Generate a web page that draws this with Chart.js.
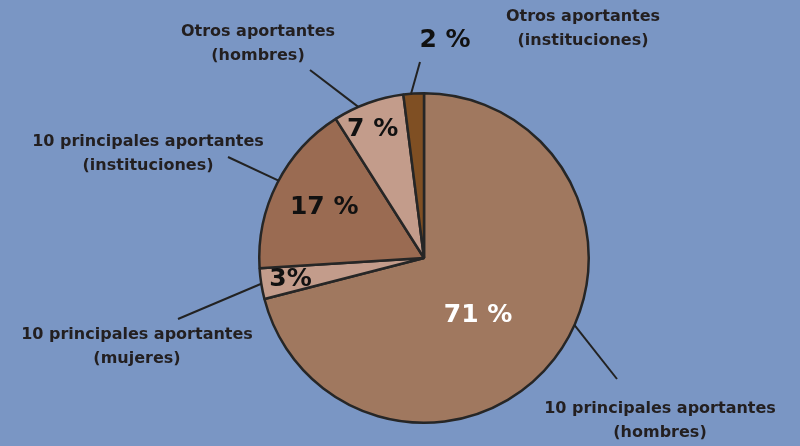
<!DOCTYPE html>
<html lang="es">
<head>
<meta charset="UTF-8">
<title>Aportantes</title>
<script src="https://cdn.jsdelivr.net/npm/chart.js"></script>
<style>
    html, body { margin: 0; padding: 0; background: #7a96c4; }
    #wrap { width: 800px; height: 446px; }
</style>
</head>
<body>
<div id="wrap"><canvas id="pie" width="800" height="446"></canvas></div>
<script>
// datos
var categories = [
    '10 principales aportantes (hombres)',
    '10 principales aportantes (mujeres)',
    '10 principales aportantes (instituciones)',
    'Otros aportantes (hombres)',
    'Otros aportantes (instituciones)'
];
var values = [71, 3, 17, 7, 2];
var pctLabels = ['71 %', '3%', '17 %', '7 %', '2 %'];
var calloutLines = [
    ['10 principales aportantes', '(hombres)'],
    ['10 principales aportantes', '(mujeres)'],
    ['10 principales aportantes', '(instituciones)'],
    ['Otros aportantes', '(hombres)'],
    ['Otros aportantes', '(instituciones)']
];

var colors = ['#a0785f', '#c39c8b', '#9a6b52', '#c39c8b', '#7f4f23'];

// where the percent label sits (fraction of radius, angle tweak in degrees)
var pctPlace = [
    { r: 0.48, da: 9, color: '#ffffff' },
    { r: 0.82, da: 0, color: '#111111' },
    { r: 0.68, da: 0, color: '#111111' },
    { r: 0.84, da: -2, color: '#111111' },
    { x: 445, y: 40, color: '#111111' }
];
var callouts = [
    { tx: 660, ty: 409, ex: 617, ey: 379, ang: 114 },
    { tx: 137, ty: 335, ex: 178, ey: 319, ang: 261 },
    { tx: 148, ty: 142, ex: 228, ey: 157, ang: 298 },
    { tx: 258, ty: 32, ex: 310, ey: 70, ang: 336.5 },
    { tx: 583, ty: 17, ex: 420, ey: 62, ang: 355.5 }
];

var labelPlugin = {
    id: 'labels',
    afterDatasetsDraw: function(chart) {
        var c = chart.ctx;
        var meta = chart.getDatasetMeta(0);
        c.save();
        c.textAlign = 'center';
        c.textBaseline = 'middle';
        meta.data.forEach(function(arc, i) {
            var p = pctPlace[i];
            var x, y;
            if (p.x !== undefined) {
                x = p.x; y = p.y;
            } else {
                var mid = (arc.startAngle + arc.endAngle) / 2 + p.da * Math.PI / 180;
                x = arc.x + Math.cos(mid) * arc.outerRadius * p.r;
                y = arc.y + Math.sin(mid) * arc.outerRadius * p.r;
            }
            c.fillStyle = p.color;
            c.font = 'bold 25px "DejaVu Sans"';
            c.fillText(pctLabels[i], x, y);

            // leader line from pie edge
            var co = callouts[i];
            var a = (co.ang - 90) * Math.PI / 180;
            var sx = arc.x + Math.cos(a) * arc.outerRadius;
            var sy = arc.y + Math.sin(a) * arc.outerRadius;
            c.strokeStyle = '#222222';
            c.lineWidth = 2;
            c.beginPath();
            c.moveTo(sx, sy);
            c.lineTo(co.ex, co.ey);
            c.stroke();

            c.fillStyle = '#231f20';
            c.font = 'bold 16px "DejaVu Sans"';
            calloutLines[i].forEach(function(t, k) {
                c.fillText(t, co.tx, co.ty + k * 24);
            });
        });
        c.restore();
    }
};

new Chart(document.getElementById('pie'), {
    type: 'pie',
    data: {
        labels: categories,
        datasets: [{
            data: values,
            backgroundColor: colors,
            borderColor: '#262626',
            borderWidth: 2.5
        }]
    },
    options: {
        responsive: false,
        animation: false,
        layout: { padding: { left: 258, right: 210, top: 92, bottom: 22 } },
        plugins: {
            legend: { display: false },
            tooltip: { enabled: false }
        }
    },
    plugins: [labelPlugin]
});
</script>
</body>
</html>
